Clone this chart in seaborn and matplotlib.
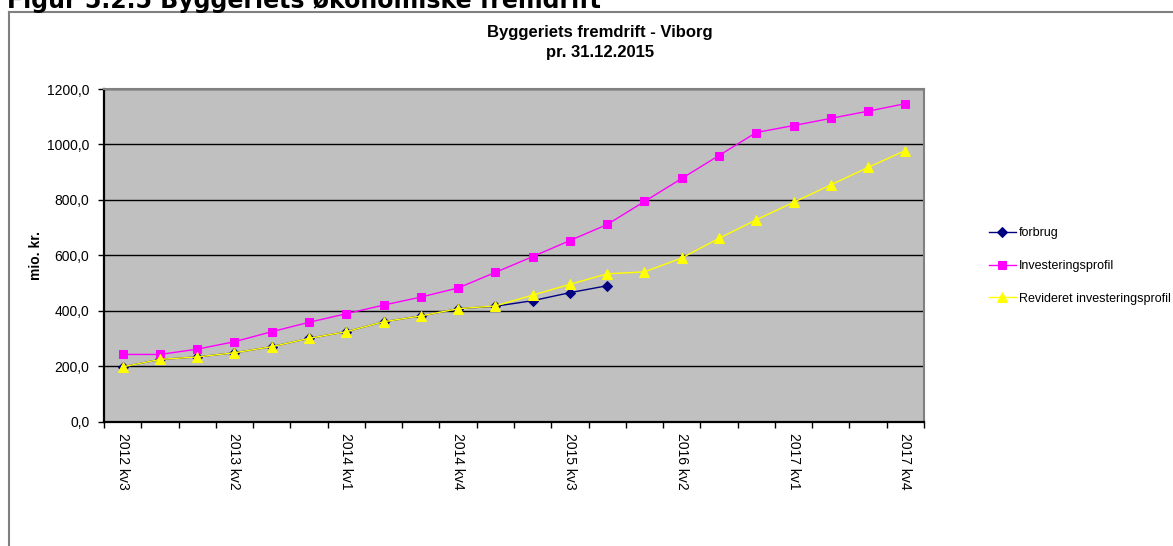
import numpy as np
import matplotlib
matplotlib.use("Agg")
import matplotlib.pyplot as plt
import seaborn as sns
from matplotlib.lines import Line2D
from matplotlib.ticker import FuncFormatter

# kvartaler 2012 kv3 - 2017 kv4
kvartaler = ["2012 kv3", "2012 kv4",
             "2013 kv1", "2013 kv2", "2013 kv3", "2013 kv4",
             "2014 kv1", "2014 kv2", "2014 kv3", "2014 kv4",
             "2015 kv1", "2015 kv2", "2015 kv3", "2015 kv4",
             "2016 kv1", "2016 kv2", "2016 kv3", "2016 kv4",
             "2017 kv1", "2017 kv2", "2017 kv3", "2017 kv4"]

# mio. kr. (aflæst)
forbrug = [197, 224, 233, 248, 270, 300, 324, 360, 381, 407, 416, 436, 465, 490]
investeringsprofil = [242, 242, 261, 288, 324, 358, 389, 420, 449, 482, 538,
                      595, 653, 711, 794, 877, 960, 1043, 1068, 1094, 1120, 1147]
revideret = [197, 224, 233, 248, 270, 300, 324, 360, 381, 407, 417, 456,
             495, 533, 540, 590, 661, 728, 791, 854, 917, 978]

plt.rcParams['font.family'] = ['Liberation Sans', 'DejaVu Sans']

W, H = 1173, 546
fig = plt.figure(figsize=(W / 100, H / 100), dpi=100)
ax = fig.add_axes([104 / W, 1 - 421.5 / H, 820 / W, 332.5 / H])
ax.set_facecolor('#C0C0C0')

pos = np.arange(len(kvartaler))
serier = [
    ("forbrug", forbrug, "#000080", "D", 5),
    ("Investeringsprofil", investeringsprofil, "#FF00FF", "s", 6),
    ("Revideret investeringsprofil", revideret, "#FFFF00", "^", 6.5),
]
for navn, vals, farve, mk, ms in serier:
    sns.lineplot(x=pos[:len(vals)], y=vals, color=farve, marker=mk,
                 markersize=ms, markeredgecolor=farve, linewidth=1,
                 label=navn, ax=ax)

handles, labels = ax.get_legend_handles_labels()
ax.get_legend().remove()
fig.legend(handles, labels, loc='center left', bbox_to_anchor=(983 / W, 1 - 266 / H),
           frameon=False, fontsize=9, borderpad=0, handlelength=2.1,
           handletextpad=0.3, labelspacing=1.65)

ax.set_xlim(-0.5, len(kvartaler) - 0.5)
ax.set_ylim(0, 1200)

ax.set_xticks(pos[::3])
ax.set_xticklabels(kvartaler[::3], rotation=270, ha='center', va='top', fontsize=10)
ax.set_xticks(np.arange(-0.5, len(kvartaler), 1), minor=True)
ax.tick_params(axis='x', which='major', length=0, pad=8)
ax.tick_params(axis='x', which='minor', length=4, width=1, direction='out', color='black')

ax.set_yticks(np.arange(0, 1201, 200))
ax.yaxis.set_major_formatter(FuncFormatter(lambda v, p: f"{v:.1f}".replace('.', ',')))
ax.tick_params(axis='y', length=4, width=1, direction='out', pad=6.5, labelsize=10, color='black')

ax.yaxis.grid(True, color='black', linewidth=1)
ax.xaxis.grid(False)

for s in ['left', 'bottom']:
    ax.spines[s].set_color('black')
    ax.spines[s].set_linewidth(1.6)
for s in ['top', 'right']:
    ax.spines[s].set_color('#808080')
    ax.spines[s].set_linewidth(1.5)

ax.set_xlabel('')
ax.set_ylabel('mio. kr.', fontweight='bold', fontsize=10)
ax.yaxis.label.set_verticalalignment('center')
ax.yaxis.set_label_coords((36 - 104) / 820, 0.5)

# titel i diagrammet
fig.text(600 / W, 1 - 32 / H, "Byggeriets fremdrift - Viborg", ha='center', va='center',
         fontsize=12, fontweight='bold')
fig.text(600 / W, 1 - 52 / H, "pr. 31.12.2015", ha='center', va='center',
         fontsize=12, fontweight='bold')

# figurtekst øverst (delvist beskåret)
fig.text(7 / W, 1 - 8 / H, "Figur 5.2.5 Byggeriets økonomiske fremdrift", ha='left',
         va='baseline', fontsize=17, fontweight='bold', family='DejaVu Sans')

# ramme om diagrammet
fig.add_artist(Line2D([8.5 / W, 8.5 / W], [0, 1 - 12.3 / H], color='#808080',
                      linewidth=1.5, transform=fig.transFigure))
fig.add_artist(Line2D([8.5 / W, 1], [1 - 12.3 / H, 1 - 12.3 / H], color='#808080',
                      linewidth=1.5, transform=fig.transFigure))

fig.savefig("out.png", dpi=100)
